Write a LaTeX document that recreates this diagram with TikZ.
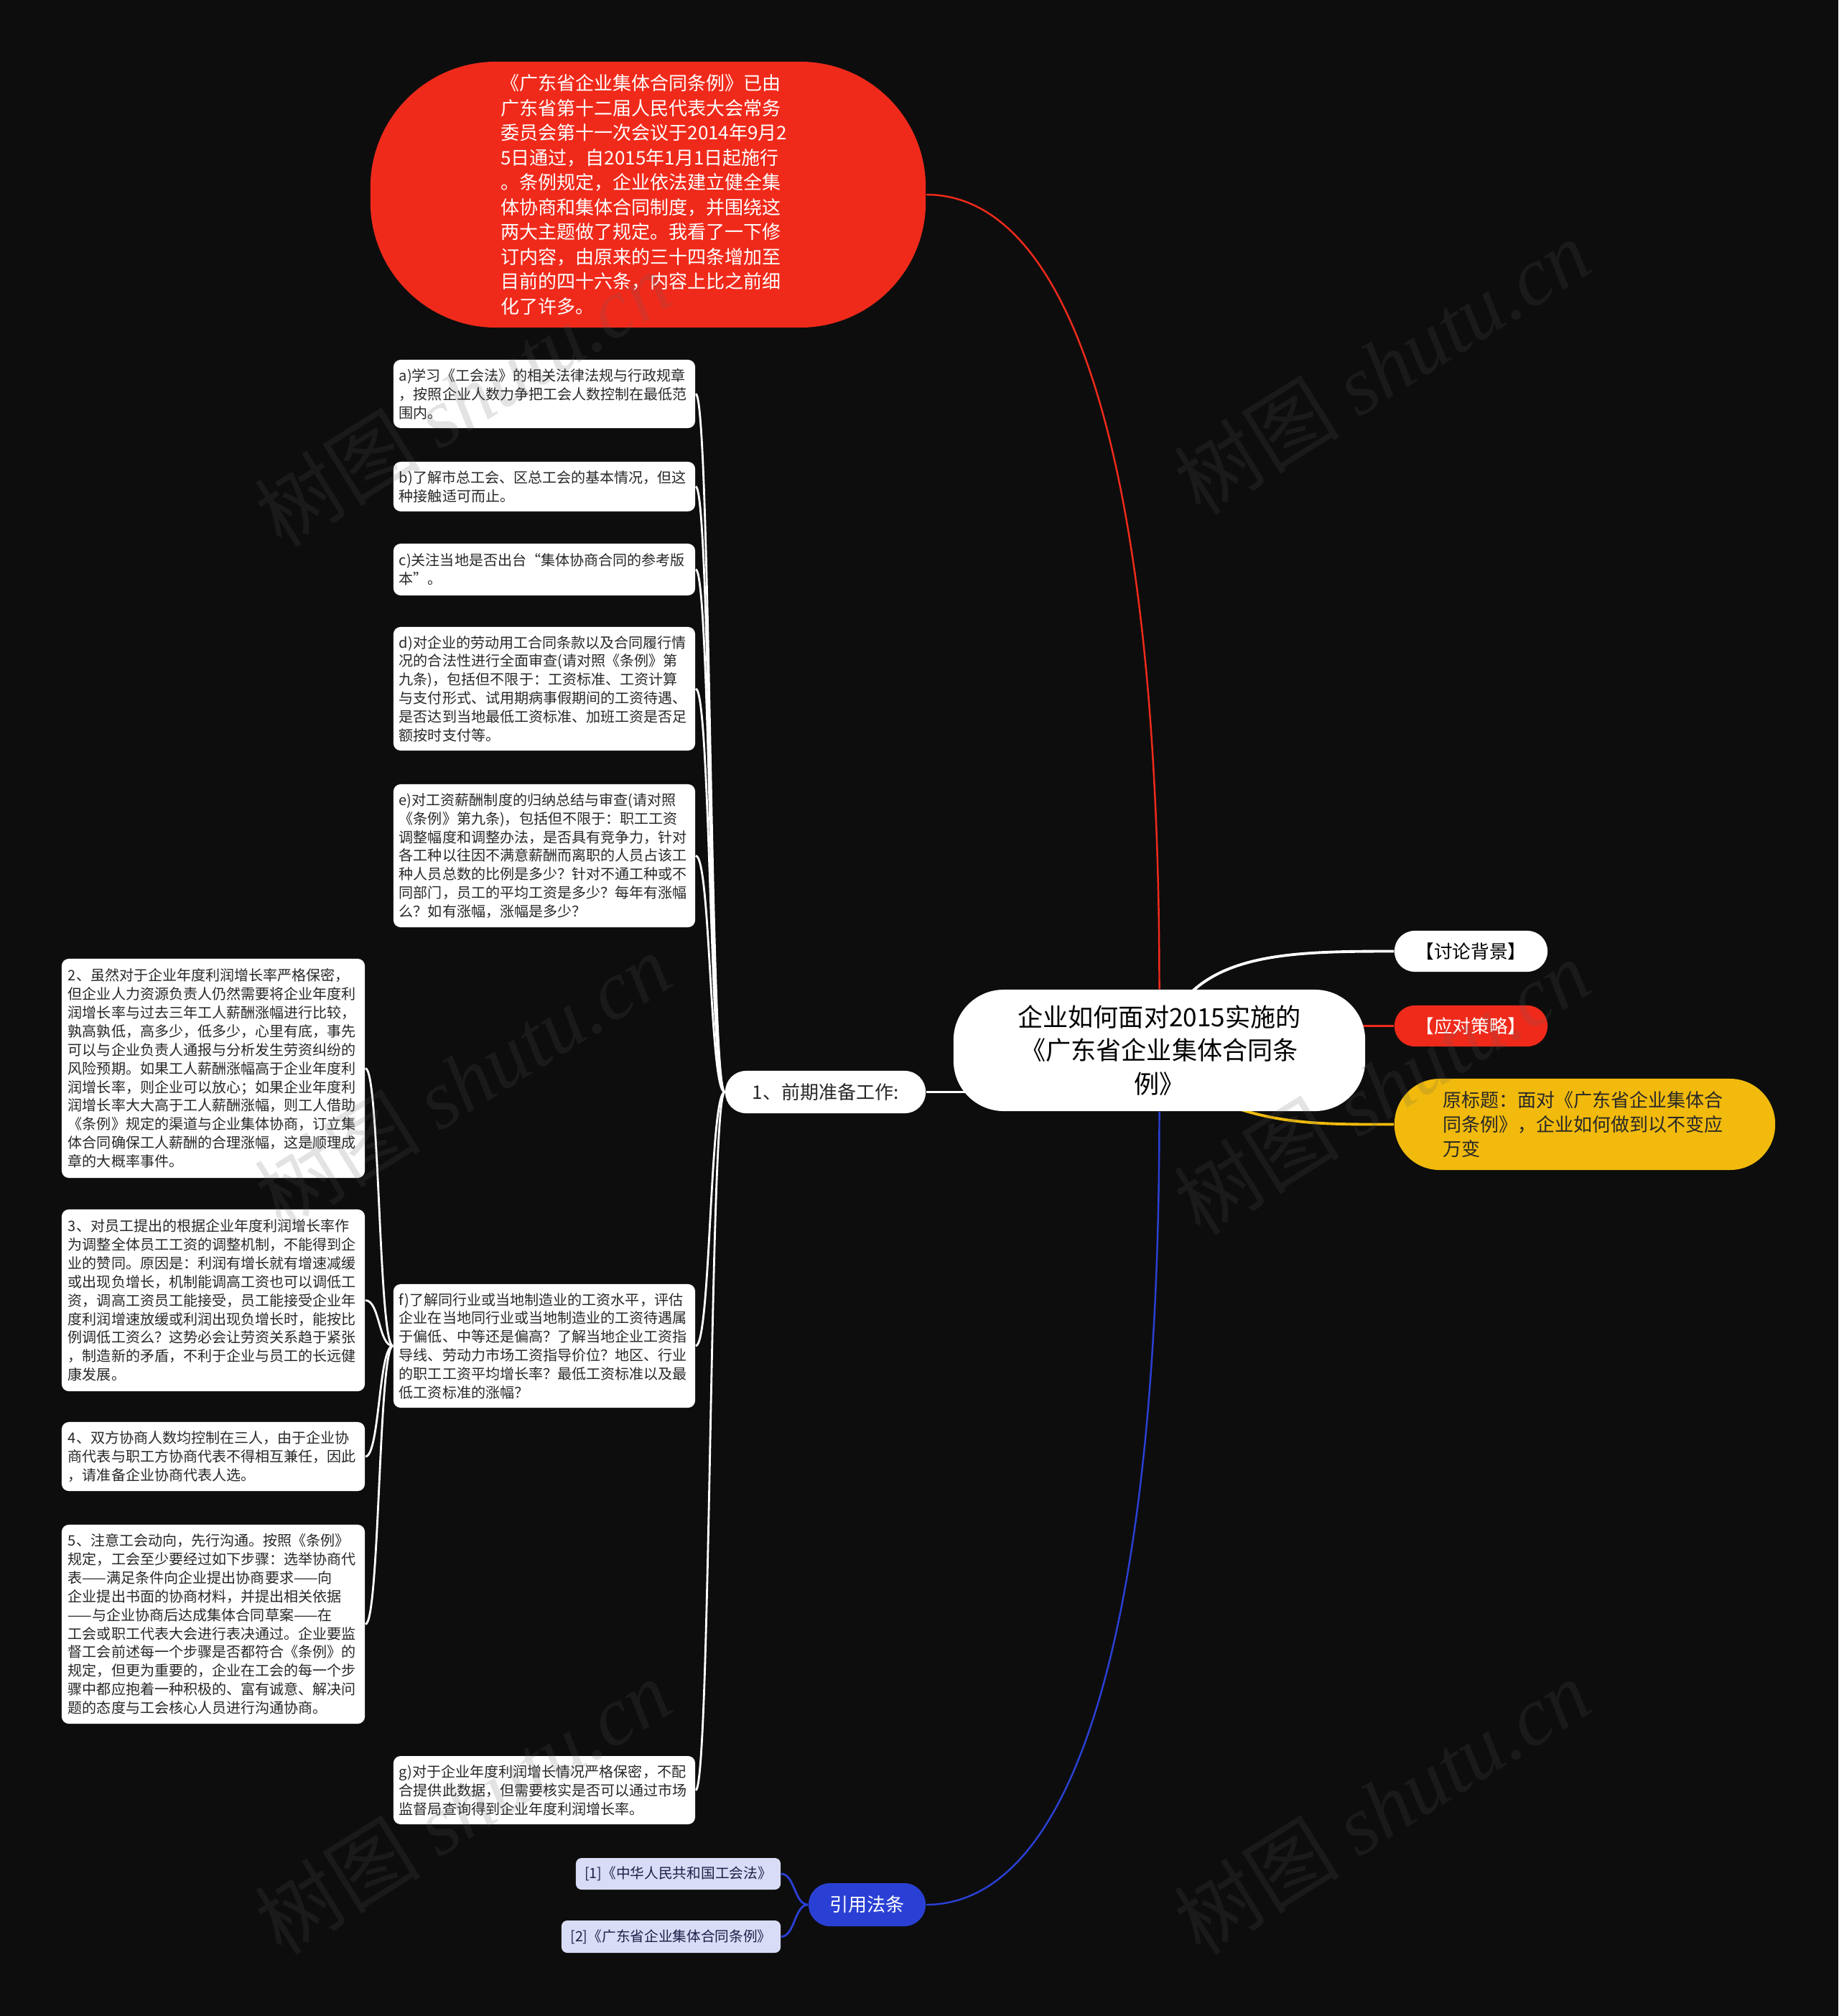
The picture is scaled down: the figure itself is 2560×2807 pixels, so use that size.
\documentclass[tikz,border=0pt]{standalone}
\usepackage{fontspec}
\setmainfont{Noto Sans CJK SC}
\newfontfamily\wmfont{Liberation Serif}
\usetikzlibrary{calc}
\pgfdeclarelayer{bg}
\pgfdeclarelayer{fg}
\pgfsetlayers{bg,main,fg}
\definecolor{bgc}{RGB}{13,13,13}
\definecolor{redc}{RGB}{240,42,27}
\definecolor{yelc}{RGB}{241,186,12}
\definecolor{bluec}{RGB}{42,64,212}
\definecolor{lavc}{RGB}{216,220,247}
\definecolor{txtc}{RGB}{40,40,40}
\definecolor{navy}{RGB}{30,32,70}
\definecolor{wmc}{RGB}{92,92,92}
\tikzset{
  smallbox/.style={fill=white, rounded corners=0.1cm, inner sep=0pt, minimum width=4.2cm,
    text width=4.04cm, align=left, text=txtc, font=\fontsize{5.7pt}{7.35pt}\selectfont},
  wideleft/.style={smallbox, minimum width=4.22cm},
  centralbox/.style={fill=white, rounded corners=0.7cm, inner sep=0pt, minimum width=5.73cm,
    minimum height=1.69cm, align=center, text=black, font=\fontsize{10pt}{13.2pt}\selectfont},
  topbox/.style={fill=redc, rounded corners=1.75cm, inner sep=0pt, minimum width=7.73cm,
    minimum height=3.7cm, text width=4.1cm, align=left, text=white, font=\fontsize{7.4pt}{9.8pt}\selectfont},
  pill/.style={rounded corners=0.28cm, inner sep=0pt, minimum height=0.57cm, align=center,
    font=\fontsize{7.3pt}{9pt}\selectfont},
  refbox/.style={fill=lavc, rounded corners=0.08cm, inner sep=0pt, align=center, text=navy,
    font=\fontsize{5.6pt}{7pt}\selectfont},
  wline/.style={draw=white, line width=0.8pt},
  wmark/.style={text=wmc, opacity=0.17, rotate=32, inner sep=0pt},
}
\begin{document}
\begin{tikzpicture}[x=0.01cm, y=-0.01cm]
\useasboundingbox (0,0) rectangle (2560,2807);
\begin{pgfonlayer}{bg}
\fill[bgc] (0,0) rectangle (2560,2807);
\end{pgfonlayer}

% central and main nodes
\node[centralbox] (c) at (1614.5,1462.5) {企业如何面对2015实施的\\《广东省企业集体合同条\\例》};
\node[topbox] (top) at (902.5,271) {《广东省企业集体合同条例》已由\\广东省第十二届人民代表大会常务\\委员会第十一次会议于2014年9月2\\5日通过，自2015年1月1日起施行\\。条例规定，企业依法建立健全集\\体协商和集体合同制度，并围绕这\\两大主题做了规定。我看了一下修\\订内容，由原来的三十四条增加至\\目前的四十六条，内容上比之前细\\化了许多。};
\node[pill, fill=white, text=txtc, minimum width=2.79cm, minimum height=0.59cm, rounded corners=0.29cm, font=\fontsize{7.4pt}{9pt}\selectfont] (n1) at (1149.5,1520.5) {1、前期准备工作:};
\node[pill, fill=white, text=black, minimum width=2.13cm] (bgk) at (2048.5,1324.5) {【讨论背景】};
\node[pill, fill=redc, text=white, minimum width=2.13cm] (str) at (2048.5,1428.5) {【应对策略】};
\node[fill=yelc, rounded corners=0.63cm, inner sep=0pt, minimum width=5.3cm, minimum height=1.27cm,
  text width=3.95cm, align=left, text=txtc, font=\fontsize{7.4pt}{9.67pt}\selectfont] (yel) at (2207,1565.5)
  {原标题：面对《广东省企业集体合\\同条例》，企业如何做到以不变应\\万变};
\node[pill, fill=bluec, text=white, minimum width=1.63cm, minimum height=0.6cm, rounded corners=0.3cm, font=\fontsize{7.4pt}{9pt}\selectfont] (ref) at (1207.5,2652) {引用法条};
\node[refbox, minimum width=2.85cm, minimum height=0.44cm] (r1) at (944.5,2609) {[1]《中华人民共和国工会法》};
\node[refbox, minimum width=3.05cm, minimum height=0.45cm] (r2) at (934.5,2696.5) {[2]《广东省企业集体合同条例》};

% a-g
\node[smallbox, minimum height=0.95cm] (a) at (758,548.5) {a)学习《工会法》的相关法律法规与行政规章\\，按照企业人数力争把工会人数控制在最低范\\围内。};
\node[smallbox, minimum height=0.69cm] (b) at (758,677.5) {b)了解市总工会、区总工会的基本情况，但这\\种接触适可而止。};
\node[smallbox, minimum height=0.72cm] (cc) at (758,793) {c)关注当地是否出台“集体协商合同的参考版\\本”。};
\node[smallbox, minimum height=1.72cm] (d) at (758,959) {d)对企业的劳动用工合同条款以及合同履行情\\况的合法性进行全面审查(请对照《条例》第\\九条)，包括但不限于：工资标准、工资计算\\与支付形式、试用期病事假期间的工资待遇、\\是否达到当地最低工资标准、加班工资是否足\\额按时支付等。};
\node[smallbox, minimum height=1.99cm] (e) at (758,1191.5) {e)对工资薪酬制度的归纳总结与审查(请对照\\《条例》第九条)，包括但不限于：职工工资\\调整幅度和调整办法，是否具有竞争力，针对\\各工种以往因不满意薪酬而离职的人员占该工\\种人员总数的比例是多少？针对不通工种或不\\同部门，员工的平均工资是多少？每年有涨幅\\么？如有涨幅，涨幅是多少？};
\node[smallbox, minimum height=1.72cm] (f) at (758,1874) {f)了解同行业或当地制造业的工资水平，评估\\企业在当地同行业或当地制造业的工资待遇属\\于偏低、中等还是偏高？了解当地企业工资指\\导线、劳动力市场工资指导价位？地区、行业\\的职工工资平均增长率？最低工资标准以及最\\低工资标准的涨幅？};
\node[smallbox, minimum height=0.95cm] (g) at (758,2492.5) {g)对于企业年度利润增长情况严格保密，不配\\合提供此数据，但需要核实是否可以通过市场\\监督局查询得到企业年度利润增长率。};

% 2-5
\node[wideleft, minimum height=3.05cm] (p2) at (297,1487.5) {2、虽然对于企业年度利润增长率严格保密，\\但企业人力资源负责人仍然需要将企业年度利\\润增长率与过去三年工人薪酬涨幅进行比较，\\孰高孰低，高多少，低多少，心里有底，事先\\可以与企业负责人通报与分析发生劳资纠纷的\\风险预期。如果工人薪酬涨幅高于企业年度利\\润增长率，则企业可以放心；如果企业年度利\\润增长率大大高于工人薪酬涨幅，则工人借助\\《条例》规定的渠道与企业集体协商，订立集\\体合同确保工人薪酬的合理涨幅，这是顺理成\\章的大概率事件。};
\node[wideleft, minimum height=2.53cm] (p3) at (297,1810.5) {3、对员工提出的根据企业年度利润增长率作\\为调整全体员工工资的调整机制，不能得到企\\业的赞同。原因是：利润有增长就有增速减缓\\或出现负增长，机制能调高工资也可以调低工\\资，调高工资员工能接受，员工能接受企业年\\度利润增速放缓或利润出现负增长时，能按比\\例调低工资么？这势必会让劳资关系趋于紧张\\，制造新的矛盾，不利于企业与员工的长远健\\康发展。};
\node[wideleft, minimum height=0.96cm] (p4) at (297,2028) {4、双方协商人数均控制在三人，由于企业协\\商代表与职工方协商代表不得相互兼任，因此\\，请准备企业协商代表人选。};
\node[wideleft, minimum height=2.77cm] (p5) at (297,2261.5) {5、注意工会动向，先行沟通。按照《条例》\\规定，工会至少要经过如下步骤：选举协商代\\表——满足条件向企业提出协商要求——向\\企业提出书面的协商材料，并提出相关依据\\——与企业协商后达成集体合同草案——在\\工会或职工代表大会进行表决通过。企业要监\\督工会前述每一个步骤是否都符合《条例》的\\规定，但更为重要的，企业在工会的每一个步\\骤中都应抱着一种积极的、富有诚意、解决问\\题的态度与工会核心人员进行沟通协商。};

\begin{pgfonlayer}{bg}
  \draw[redc, line width=0.7pt] (top.east) .. controls +(197,0) and +(0,-751) .. (c.north);
  \draw[bluec, line width=0.7pt] (c.south) .. controls +(0,751) and +(197,0) .. (ref.east);
  \draw[white, line width=1.1pt] ($(c.north)+(47,2)$) .. controls +(59,-53) and +(-122,0) .. (bgk.west);
  \draw[redc, line width=1.1pt] (str.west) -- ($(str.west -| c.east)+(-15,0)$);
  \draw[yelc, line width=1.1pt] ($(c.south)+(104,-6)$) .. controls +(72,25) and +(-82,0) .. (yel.west);
  \draw[wline] (n1.east) -- ($(n1.east -| c.west)+(30,0)$);
  \foreach \k in {a,b,cc,d,e,f,g}
    \draw[wline] (n1.west) .. controls +(-21,0) and +(21,0) .. (\k.east);
  \foreach \k in {p2,p3,p4,p5}
    \draw[wline] (f.west) .. controls +(-20,0) and +(20,0) .. (\k.east);
  \foreach \k in {r1,r2}
    \draw[bluec, line width=0.8pt] (ref.west) .. controls +(-19,0) and +(19,0) .. (\k.east);
\end{pgfonlayer}

\begin{pgfonlayer}{fg}
  \foreach \px/\py in {644/555, 1924/510, 644/1504, 1924/1513, 644/2515, 1924/2515}
    \node[wmark] (wm\px\py) at (\px,\py) {\fontsize{33pt}{33pt}\selectfont 树图 {\wmfont\itshape shutu.cn}};
\end{pgfonlayer}
\end{tikzpicture}
\end{document}
